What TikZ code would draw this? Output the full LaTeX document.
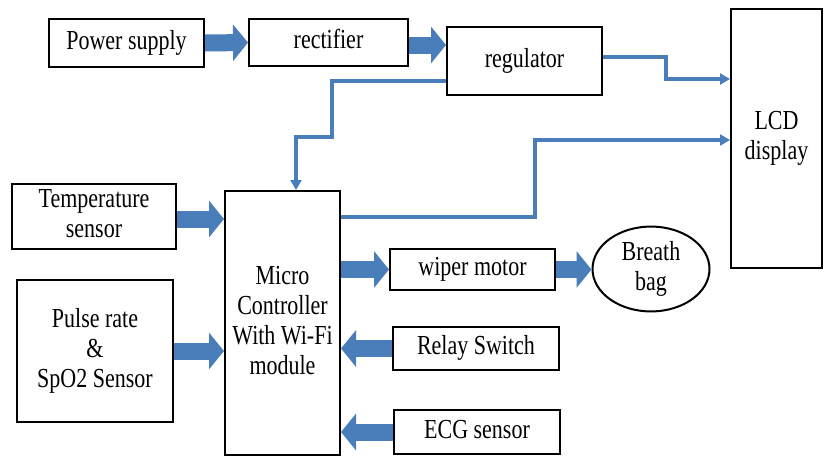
\documentclass[tikz,border=0pt]{standalone}
\usepackage{fontspec}
\usepackage{graphicx}
\setmainfont{Liberation Serif}
\usetikzlibrary{arrows.meta,shapes.geometric}
\definecolor{arrblue}{RGB}{74,126,187}
\newcommand\vs[1]{\scalebox{1}[1.25]{\fontsize{22}{24}\selectfont\begin{tabular}{@{}c@{}}#1\end{tabular}}}
\begin{document}
\begin{tikzpicture}[x=1pt,y=-1pt,
  box/.style={draw=black,line width=2pt,fill=white,inner sep=0pt,align=center},
  bigarrow/.style={arrblue,line width=17pt,-{Triangle[width=36pt,length=15pt]}},
  thinline/.style={arrblue,line width=3.2pt,-{Triangle[width=11pt,length=10pt]}}]
\useasboundingbox (0,0) rectangle (824,456);
\fill[white] (0,0) rectangle (824,456);
% boxes
\node[box,minimum width=155pt,minimum height=48pt] (ps) at (126.5,43) {\vs{Power supply}};
\node[box,minimum width=159pt,minimum height=47pt] (rect) at (328.5,42.5) {\vs{rectifier}};
\node[box,minimum width=155pt,minimum height=68pt] (reg) at (524.5,61) {\vs{regulator}};
\node[box,minimum width=91pt,minimum height=259pt] (lcd) at (776.5,138.5) {\vs{LCD\\display}};
\node[box,minimum width=164pt,minimum height=65pt] (temp) at (94,216.5) {\vs{Temperature\\sensor}};
\node[box,minimum width=156pt,minimum height=142pt] (pulse) at (95,351) {\vs{Pulse rate\\\&\\SpO2 Sensor}};
\node[box,minimum width=115pt,minimum height=264pt] (mcu) at (282.5,323) {\vs{Micro\\Controller\\With Wi-Fi\\module}};
\node[box,minimum width=165pt,minimum height=41pt] (wiper) at (472.5,269.5) {\vs{wiper motor}};
\node[box,ellipse,minimum width=117pt,minimum height=74pt] (bag) at (651,269) {\vs{Breath\\bag}};
\node[box,minimum width=166pt,minimum height=43pt] (relay) at (476,348.5) {\vs{Relay Switch}};
\node[box,minimum width=166pt,minimum height=44pt] (ecg) at (477,432) {\vs{ECG sensor}};
% block arrows
\draw[bigarrow] (ps.east) -- (rect.west);
\draw[bigarrow] ([yshift=-2.5pt]rect.east) -- ([yshift=-2.5pt]rect.east -| reg.west);
\draw[bigarrow] ([yshift=-2.5pt]temp.east) -- ([yshift=-2.5pt]temp.east -| mcu.west);
\draw[bigarrow] (pulse.east) -- (pulse.east -| mcu.west);
\draw[bigarrow] (wiper.west -| mcu.east) -- (wiper.west);
\draw[bigarrow] (wiper.east) -- (wiper.east -| bag.west);
\draw[bigarrow] (relay.west) -- (relay.west -| mcu.east);
\draw[bigarrow] (ecg.west) -- (ecg.west -| mcu.east);
% thin connectors
\coordinate (r1) at (666,57);
\coordinate (r2) at (666,79);
\draw[thinline] (reg.east |- r1) -- (r1) -- (r2) -- (r2 -| lcd.west);
\coordinate (m1) at (332,81);
\coordinate (m2) at (332,137);
\coordinate (m3) at (296,137);
\draw[thinline] (reg.west |- m1) -- (m1) -- (m2) -- (m3) -- (m3 |- mcu.north);
\coordinate (c1) at (535,217);
\coordinate (c2) at (535,140);
\draw[thinline] (mcu.east |- c1) -- (c1) -- (c2) -- (c2 -| lcd.west);
\end{tikzpicture}
\end{document}
